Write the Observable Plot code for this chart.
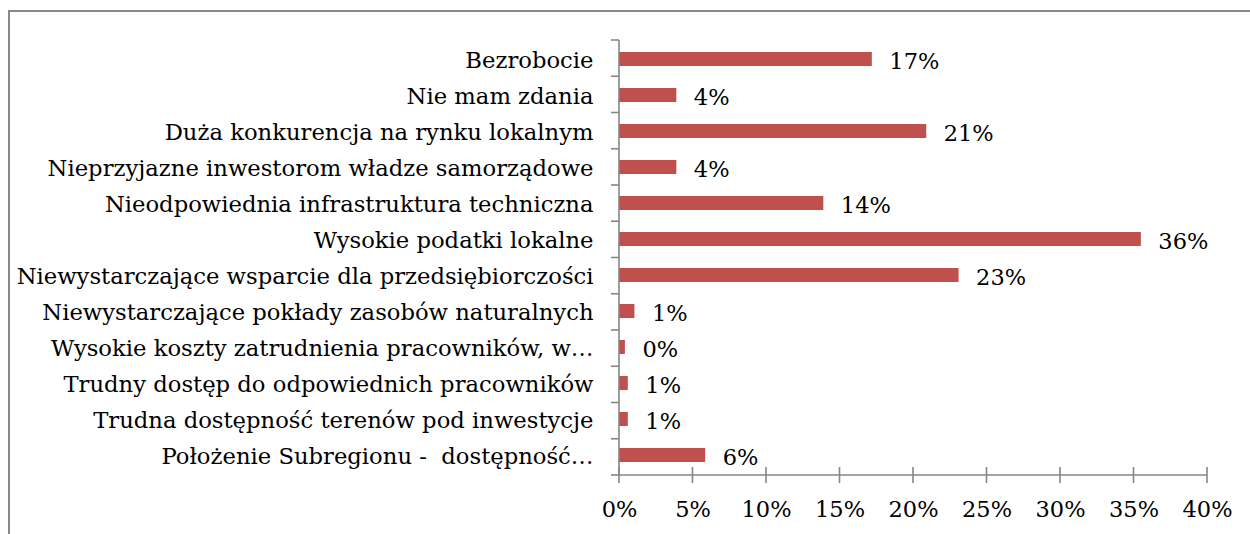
<!DOCTYPE html>
<html><head><meta charset="utf-8">
<script src="https://cdn.jsdelivr.net/npm/d3@7"></script>
<script src="https://cdn.jsdelivr.net/npm/@observablehq/plot@0.6"></script>
<style>
html,body{margin:0;padding:0;background:#fff;overflow:hidden}
#wrap{position:relative;width:1250px;height:534px}
#chart{position:absolute;left:0;top:0}
#border{position:absolute;left:8px;top:10px;width:1300px;height:600px;border:2px solid #898989;box-sizing:border-box;pointer-events:none}
</style></head><body>
<div id="wrap"><div id="chart"></div><div id="border"></div></div>
<script>
const categories = [
  "Bezrobocie",
  "Nie mam zdania",
  "Duża konkurencja na rynku lokalnym",
  "Nieprzyjazne inwestorom władze samorządowe",
  "Nieodpowiednia infrastruktura techniczna",
  "Wysokie podatki lokalne",
  "Niewystarczające wsparcie dla przedsiębiorczości",
  "Niewystarczające pokłady zasobów naturalnych",
  "Wysokie koszty zatrudnienia pracowników, w…",
  "Trudny dostęp do odpowiednich pracowników",
  "Trudna dostępność terenów pod inwestycje",
  "Położenie Subregionu -  dostępność…"
];
const values = [0.172, 0.039, 0.209, 0.039, 0.139, 0.355, 0.231, 0.0105, 0.004, 0.006, 0.006, 0.0586];
const valueLabels = ["17%", "4%", "21%", "4%", "14%", "36%", "23%", "1%", "0%", "1%", "1%", "6%"];
const xTicks = [0, 0.05, 0.10, 0.15, 0.20, 0.25, 0.30, 0.35, 0.40];
const xTickLabels = ["0%", "5%", "10%", "15%", "20%", "25%", "30%", "35%", "40%"];

const data = categories.map((c, i) => ({cat: c, value: values[i], label: valueLabels[i]}));

const axisColor = "#868686";

function axisLines(index, scales, vals, dims) {
  const {x} = scales;
  const top = dims.marginTop, bottom = dims.height - dims.marginBottom;
  const x0 = x(xTicks[0]), x1 = x(xTicks[xTicks.length - 1]);
  const n = categories.length;
  const step = (bottom - top) / n;
  const g = d3.create("svg:g").attr("stroke", axisColor).attr("stroke-width", 1.6).attr("fill", "none");
  g.append("line").attr("x1", x0).attr("x2", x0).attr("y1", top).attr("y2", bottom);
  g.append("line").attr("x1", x0).attr("x2", x1).attr("y1", bottom).attr("y2", bottom);
  for (let k = 0; k <= n; k++) {
    const yy = top + k * step;
    g.append("line").attr("x1", x0 - 8).attr("x2", x0).attr("y1", yy).attr("y2", yy);
  }
  for (const t of xTicks) {
    g.append("line").attr("x1", x(t)).attr("x2", x(t)).attr("y1", bottom - 8).attr("y2", bottom + 8);
  }
  return g.node();
}

const chart = Plot.plot({
  width: 1250,
  height: 534,
  marginLeft: 619,
  marginRight: 43,
  marginTop: 40,
  marginBottom: 59,
  x: {domain: [0, 0.4]},
  y: {domain: categories, paddingInner: 0.6, paddingOuter: 0.3},
  style: {fontFamily: "'DejaVu Serif', serif", fontSize: "22px", color: "#000", background: "transparent"},
  marks: [
    Plot.barX(data, {x: "value", y: "cat", fill: "#C0504D"}),
    Plot.text(data, {x: "value", y: "cat", text: "label", dx: 17, textAnchor: "start", fill: "#000", fontSize: 22.5, dy: 2}),
    Plot.axisY({tickSize: 0, tickPadding: 26, label: null, fontSize: 22.7, fill: "#000", dy: 1}),
    Plot.axisX({ticks: xTicks, tickSize: 0, tickPadding: 26, label: null, fontSize: 22.5, fill: "#000",
      tickFormat: d => xTickLabels[xTicks.findIndex(t => Math.abs(t - d) < 1e-9)]}),
    axisLines
  ]
});
document.getElementById("chart").appendChild(chart);
</script>
</body></html>
